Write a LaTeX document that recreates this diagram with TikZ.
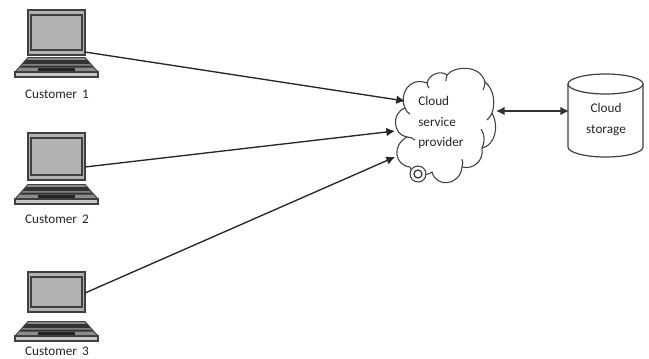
\documentclass[tikz,border=0pt]{standalone}
\usepackage{fontspec}
\setmainfont{Carlito}
\usetikzlibrary{arrows.meta}
\tikzset{
 px/.style={x=0.75pt,y=-0.75pt},
 link/.style={draw=black!85,line width=1pt,-{Latex[length=6.5pt,width=6.5pt]}},
 biglink/.style={draw=black!80,line width=1pt,{Latex[length=6.5pt,width=6.5pt]}-{Latex[length=6.5pt,width=6.5pt]}},
 lbl/.style={font=\fontsize{9.9pt}{11pt}\selectfont,text=black!85,inner sep=0pt,align=left},
 outline/.style={draw=black!75,line width=0.8pt},
}
% screen top, screen bottom, base bottom, arrow start y, coordinate name
\newcommand{\laptop}[5]{%
  \fill[black!30,draw=black!75,line width=0.8pt] (28,#1) rectangle (85,#2);
  \fill[black!30,draw=black!75,line width=1.2pt] (31,#1+5) rectangle (82,#2-5);
  \fill[black!45,draw=black!75,line width=0.7pt] (28,#3-19.5) -- (85,#3-19.5) -- (98,#3-5) -- (15,#3-5) -- cycle;
  \fill[black!80] (26,#3-17) -- (87,#3-17) -- (90,#3-13) -- (23,#3-13) -- cycle;
  \fill[black!80] (22,#3-11.5) -- (91,#3-11.5) -- (93,#3-9.5) -- (20,#3-9.5) -- cycle;
  \fill[black!85] (38,#3-9) rectangle (75,#3-6);
  \fill[black!22,draw=black!75,line width=0.8pt] (15,#3-5) rectangle (98,#3);
  \coordinate (#5) at (85,#4);
}
\begin{document}
\begin{tikzpicture}[px]
\useasboundingbox (0,0) rectangle (649,358);
\fill[white] (0,0) rectangle (649,358);
\laptop{10}{55}{77}{52}{l1}
\laptop{133}{180}{204}{167}{l2}
\laptop{272}{312}{341}{293}{l3}
\node[lbl] (t1) at (57,94) {Customer\, 1};
\node[lbl] (t2) at (57,219) {Customer\, 2};
\node[lbl] (t3) at (57,351) {Customer\, 3};
% cloud
\draw[outline,fill=white] (405,108)
 .. controls (399,96) and (408,76) .. (427,83)
 .. controls (429,74) and (441,70) .. (447,75)
 .. controls (454,66) and (480,64) .. (485,82)
 .. controls (495,90) and (495,105) .. (492,113)
 .. controls (499,125) and (496,145) .. (482,148)
 .. controls (484,160) and (474,170) .. (462,167)
 .. controls (460,186) and (436,188) .. (432,172)
 .. controls (426,177) and (412,175) .. (410,167)
 .. controls (394,165) and (392,145) .. (407,137)
 .. controls (393,135) and (391,113) .. (405,108) -- cycle;
\draw[outline] (482,148) .. controls (485,142) and (485,135) .. (481,129);
\draw[outline] (462,167) .. controls (463,164) and (463,162) .. (462,159);
\draw[outline] (407,137) .. controls (410,137) and (413,138) .. (415,140);
\draw[outline] (405,108) .. controls (406,111) and (408,113) .. (410,114);
\draw[outline] (427,83) .. controls (427,85) and (428,87) .. (429,88);
\draw[outline] (447,75) .. controls (446,77) and (446,79) .. (446,81);
\draw[outline] (485,82) .. controls (485,85) and (484,88) .. (483,90);
\draw[outline] (492,113) .. controls (491,116) and (489,118) .. (487,120);
\node[circle,draw=black!75,line width=0.8pt,fill=white,minimum size=12pt,inner sep=0pt] (knob) at (418,174) {};
\node[circle,draw=black!75,line width=1pt,minimum size=6pt,inner sep=0pt] at (knob) {};
\coordinate (c1) at (405,101);
\coordinate (c2) at (395,131);
\coordinate (c3) at (395,157);
\coordinate (c4) at (496,111);
\node[lbl,anchor=west] at (418,101) {Cloud};
\node[lbl,anchor=west] at (418,122) {service};
\node[lbl,anchor=west] at (418,143) {provider};
% cylinder
\draw[outline,line width=0.9pt,fill=white] (568,84) -- (568,147) arc[start angle=180,end angle=0,x radius=37.5,y radius=10] -- (643,84) arc[start angle=0,end angle=-180,x radius=37.5,y radius=10];
\draw[outline,line width=0.9pt] (568,84) arc[start angle=180,end angle=0,x radius=37.5,y radius=10];
\coordinate (s) at (569,111);
\node[lbl] at (606,108) {Cloud};
\node[lbl] at (606,130) {storage};
\draw[link] (l1) -- (c1);
\draw[link] (l2) -- (c2);
\draw[link] (l3) -- (c3);
\draw[biglink] (c4) -- (s);
\end{tikzpicture}
\end{document}
